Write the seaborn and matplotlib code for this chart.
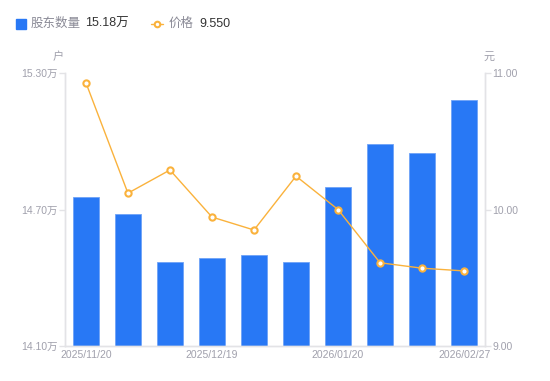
import seaborn as sns
import matplotlib.pyplot as plt
import matplotlib.lines as mlines
import numpy as np
import pandas as pd

# 股东数量 (万户) and 价格 (元)
holders = [14.755, 14.68, 14.47, 14.487, 14.50, 14.47, 14.80, 14.988, 14.948, 15.18]
price = [10.93, 10.12, 10.29, 9.945, 9.85, 10.245, 10.00, 9.61, 9.57, 9.55]
tick_pos = [0, 3, 6, 9]
tick_labels = ['2025/11/20', '2025/12/19', '2026/01/20', '2026/02/27']

df = pd.DataFrame({"idx": range(len(holders)), "holders": holders, "price": price})

sns.set_style("white")
plt.rcParams['font.family'] = ['Liberation Sans', 'Noto Sans CJK SC', 'DejaVu Sans']

blue = '#2878F5'
orange = '#FAB23C'
gray = '#A0A0AC'
axis_col = '#E3E3E6'

fig = plt.figure(figsize=(5.5, 3.81), dpi=100)
ax = fig.add_axes([0.118, 0.092, 0.764, 0.716])

sns.barplot(data=df, x="idx", y="holders", color=blue, width=0.6,
            edgecolor='#6FA3F7', linewidth=0.6, saturation=1, ax=ax)
ax.set_ylim(14.10, 15.30)
ax.set_xlim(-0.5, len(holders) - 0.5)
ax.set_yticks([14.10, 14.70, 15.30])
ax.set_yticklabels(['14.10万', '14.70万', '15.30万'])
ax.set_xticks(tick_pos)
ax.set_xticklabels(tick_labels)
ax.set_xlabel('')
ax.set_ylabel('')

ax2 = ax.twinx()
sns.lineplot(data=df, x="idx", y="price", color=orange, linewidth=1,
             marker='o', markersize=4.5, markerfacecolor='white',
             markeredgecolor=orange, markeredgewidth=1.5, ax=ax2)
ax2.set_ylim(9.0, 11.0)
ax2.set_yticks([9.0, 10.0, 11.0])
ax2.set_yticklabels(['9.00', '10.00', '11.00'])
ax2.set_ylabel('')
ax2.set_xlim(-0.5, len(holders) - 0.5)

for a in (ax, ax2):
    for s in a.spines.values():
        s.set_visible(False)
    for s in ('left', 'right', 'bottom'):
        a.spines[s].set_visible(True)
        a.spines[s].set_color(axis_col)
        a.spines[s].set_linewidth(1)

ax.tick_params(axis='y', colors=axis_col, labelcolor=gray, labelsize=7.5,
               length=4, width=1, pad=1, left=True)
ax.tick_params(axis='x', colors=axis_col, labelcolor=gray, labelsize=7.5,
               length=0, pad=3)
ax2.tick_params(axis='y', colors=axis_col, labelcolor=gray, labelsize=7.5,
                length=4, width=1, pad=1, right=True)

fig.text(0.105, 0.85, '户', color=gray, fontsize=8, ha='center', va='center')
fig.text(0.89, 0.85, '元', color=gray, fontsize=8, ha='center', va='center')

# legend
fig.add_artist(mlines.Line2D([0.038], [0.937], marker='s', markersize=7,
                             color=blue, linestyle='none', transform=fig.transFigure))
fig.text(0.055, 0.937, '股东数量', color='#8A8A96', fontsize=9, va='center')
fig.text(0.155, 0.937, '15.18万', color='#333333', fontsize=9, va='center')
fig.add_artist(mlines.Line2D([0.275, 0.297], [0.937, 0.937], color=orange,
                             linewidth=1, transform=fig.transFigure))
fig.add_artist(mlines.Line2D([0.286], [0.937], marker='o', markersize=4,
                             markerfacecolor='white', markeredgecolor=orange,
                             markeredgewidth=1.5, linestyle='none',
                             transform=fig.transFigure))
fig.text(0.306, 0.937, '价格', color='#8A8A96', fontsize=9, va='center')
fig.text(0.362, 0.937, '9.550', color='#333333', fontsize=9, va='center')

fig.savefig('out.png', dpi=100)
